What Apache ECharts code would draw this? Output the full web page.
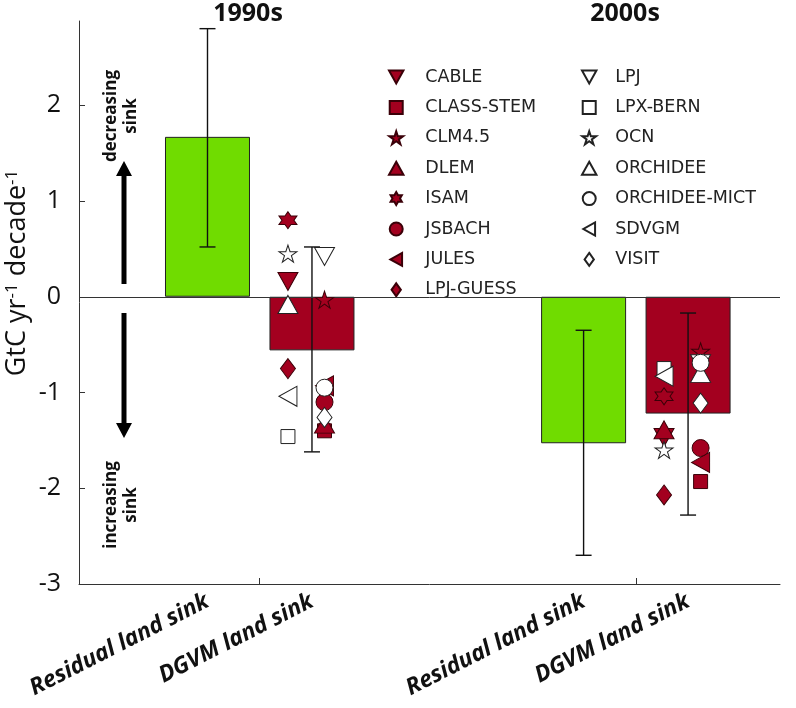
<!DOCTYPE html>
<html><head><meta charset="utf-8">
<script src="https://cdn.jsdelivr.net/npm/echarts@6/dist/echarts.min.js"></script>
<style>html,body{margin:0;padding:0;background:#fff}#c{width:796px;height:708px}</style>
</head><body><div id="c"></div>
<script>
// ---------------- data ----------------
const groupLabels = ['1990s', '2000s'];
const barCategories = ['Residual land sink', 'DGVM land sink', 'Residual land sink', 'DGVM land sink'];
const barPositions = [1, 2, 4.6, 5.6];
const barValues = [1.67, -0.56, -1.53, -1.22];
const errLow = [0.52, -1.62, -2.70, -2.28];
const errHigh = [2.80, 0.52, -0.35, -0.17];
const yTicks = [-3, -2, -1, 0, 1, 2];

const models = ['CABLE', 'CLASS-STEM', 'CLM4.5', 'DLEM', 'ISAM', 'JSBACH', 'JULES', 'LPJ-GUESS',
                'LPJ', 'LPX-BERN', 'OCN', 'ORCHIDEE', 'ORCHIDEE-MICT', 'SDVGM', 'VISIT'];
const model1990 = [0.16, -1.40, -0.03, -1.33, 0.80, -1.10, -0.93, -0.75,
                   0.42, -1.46, 0.45, -0.08, -0.95, -1.04, -1.26];
const model2000 = [-1.47, -1.93, -0.57, -1.39, -1.04, -1.58, -1.73, -2.07,
                   -0.70, -0.75, -1.60, -0.80, -0.69, -0.83, -1.11];
// which side of the DGVM error bar each marker sits on (layout only)
const column1990 = ['L', 'R', 'R', 'R', 'L', 'R', 'R', 'L', 'R', 'L', 'L', 'L', 'R', 'L', 'R'];
const column2000 = ['L', 'R', 'R', 'L', 'L', 'R', 'R', 'L', 'R', 'L', 'L', 'R', 'R', 'L', 'R'];

// ---------------- styles ----------------
const RED = '#A3001F', GREEN = '#70DC00';
const STAR5 = 'path://M0,-10L2.25,-3.09L9.51,-3.09L3.63,1.18L5.88,8.09L0,3.82L-5.88,8.09L-3.63,1.18L-9.51,-3.09L-2.25,-3.09Z';
const HEX = 'path://M0,-10L2.89,-5L8.66,-5L5.77,0L8.66,5L2.89,5L0,10L-2.89,5L-8.66,5L-5.77,0L-8.66,-5L-2.89,-5Z';
const DOWN = 'path://M0,0L10,0L5,9Z';
const UP = 'path://M5,0L10,9L0,9Z';
const LEFT = 'path://M9,0L9,10L0,5Z';
const SQUARE = 'path://M0,0L10,0L10,10L0,10Z';
const DIAMOND = 'path://M5,0L10,7L5,14L0,7Z';
const symbolStyle = {
  'CABLE': [DOWN, [20, 18], true], 'CLASS-STEM': [SQUARE, [14, 14], true], 'CLM4.5': [STAR5, [18, 17], true],
  'DLEM': [UP, [20, 18], true], 'ISAM': [HEX, [18, 17], true], 'JSBACH': ['circle', [17, 17], true],
  'JULES': [LEFT, [18, 20], true], 'LPJ-GUESS': [DIAMOND, [15, 20], true],
  'LPJ': [DOWN, [20, 18], false], 'LPX-BERN': [SQUARE, [14, 14], false], 'OCN': [STAR5, [18, 17], false],
  'ORCHIDEE': [UP, [20, 18], false], 'ORCHIDEE-MICT': ['circle', [17, 17], false],
  'SDVGM': [LEFT, [18, 20], false], 'VISIT': [DIAMOND, [15, 20], false]
};
const colOffset = { L: -0.23, R: 0.12 };

const scatterSeries = models.map((m, i) => {
  const [sym, size, filled] = symbolStyle[m];
  return {
    name: m, type: 'scatter', z: 5, symbol: sym, symbolSize: size,
    itemStyle: { color: filled ? RED : '#ffffff', borderColor: filled ? '#3a0008' : '#222', borderWidth: 1, opacity: 1 },
    emphasis: { disabled: true },
    data: [
      [barPositions[1] + colOffset[column1990[i]], model1990[i]],
      [barPositions[3] + colOffset[column2000[i]], model2000[i]]
    ]
  };
});

const chart = echarts.init(document.getElementById('c'), null, { renderer: 'canvas' });
const legendText = { fontFamily: 'DejaVu Sans', fontSize: 17.5, lineHeight: 13, color: '#222' };

const option = {
  animation: false,
  grid: { left: 79, right: 16, top: 21, bottom: 124, containLabel: false, outerBoundsMode: 'none' },
  xAxis: {
    type: 'value', min: -0.23, max: 6.48,
    axisLine: { show: true, onZero: false, lineStyle: { color: '#333', width: 1 } },
    axisTick: { show: true, inside: true, length: 6, customValues: [1.5, 5.1], lineStyle: { color: '#333' } },
    axisLabel: {
      customValues: barPositions, rotate: 27, margin: 16,
      fontFamily: 'Noto Sans', fontSize: 23, fontWeight: 'bold', fontStyle: 'italic', color: '#111',
      formatter: v => barCategories[barPositions.indexOf(v)] || ''
    },
    splitLine: { show: false }
  },
  yAxis: {
    type: 'value', min: -3, max: 2.88,
    axisLine: { show: true, onZero: false, lineStyle: { color: '#333', width: 1 } },
    axisTick: { show: true, inside: true, length: 6, customValues: yTicks, lineStyle: { color: '#333' } },
    axisLabel: { customValues: yTicks, fontFamily: 'Open Sans', fontSize: 25, color: '#111', margin: 18 },
    splitLine: { show: false }
  },
  legend: [
    { data: models.slice(0, 8), orient: 'vertical', left: 388, top: 68, padding: 0,
      itemWidth: 48, itemHeight: 13, itemGap: 12.4, selectedMode: false, textStyle: legendText },
    { data: models.slice(8), orient: 'vertical', left: 581, top: 68, padding: 0,
      itemWidth: 42, itemHeight: 13, itemGap: 12.4, selectedMode: false, textStyle: legendText }
  ],
  series: [
    {
      type: 'bar', barWidth: 85, z: 2,
      itemStyle: { borderColor: '#222', borderWidth: 1 },
      data: barPositions.map((x, i) => ({ value: [x, barValues[i]], itemStyle: { color: i % 2 === 0 ? GREEN : RED } })),
      markLine: {
        silent: true, symbol: 'none', label: { show: false },
        lineStyle: { color: '#333', width: 1, type: 'solid' },
        data: [{ yAxis: 0 }]
      }
    },
    {
      type: 'custom', z: 3,
      data: barPositions.map((x, i) => [x, errLow[i], errHigh[i]]),
      renderItem: (params, api) => {
        const x = api.value(0);
        const lo = api.coord([x, api.value(1)]);
        const hi = api.coord([x, api.value(2)]);
        const c = 8;
        const st = { stroke: '#111', lineWidth: 1.4 };
        return {
          type: 'group', children: [
            { type: 'line', shape: { x1: lo[0], y1: lo[1], x2: hi[0], y2: hi[1] }, style: st },
            { type: 'line', shape: { x1: hi[0] - c, y1: hi[1], x2: hi[0] + c, y2: hi[1] }, style: st },
            { type: 'line', shape: { x1: lo[0] - c, y1: lo[1], x2: lo[0] + c, y2: lo[1] }, style: st }
          ]
        };
      }
    },
    ...scatterSeries
  ],
  graphic: [
    { type: 'text', x: 248, y: 14, style: { text: groupLabels[0], fontFamily: 'Open Sans', fontWeight: 'bold', fontSize: 25, fill: '#111', align: 'center', verticalAlign: 'middle' } },
    { type: 'text', x: 625, y: 14, style: { text: groupLabels[1], fontFamily: 'Open Sans', fontWeight: 'bold', fontSize: 25, fill: '#111', align: 'center', verticalAlign: 'middle' } },
    { type: 'text', x: 17, y: 273, rotation: Math.PI / 2,
      style: { text: 'GtC yr{s|-1} decade{s|-1}', fontFamily: 'Open Sans', fontSize: 27, fill: '#111', align: 'center', verticalAlign: 'middle',
        rich: { s: { fontFamily: 'Open Sans', fontSize: 17, verticalAlign: 'top', fill: '#111' } } } },
    { type: 'text', x: 121, y: 116, rotation: Math.PI / 2,
      style: { text: 'decreasing\nsink', fontFamily: 'Open Sans', fontWeight: 'bold', fontSize: 17, lineHeight: 20, fill: '#111', align: 'center', verticalAlign: 'middle' } },
    { type: 'text', x: 121, y: 505, rotation: Math.PI / 2,
      style: { text: 'increasing\nsink', fontFamily: 'Open Sans', fontWeight: 'bold', fontSize: 17, lineHeight: 20, fill: '#111', align: 'center', verticalAlign: 'middle' } },
    { type: 'line', shape: { x1: 124, y1: 284, x2: 124, y2: 172 }, style: { stroke: '#000', lineWidth: 5 } },
    { type: 'polygon', shape: { points: [[116, 176], [132, 176], [124, 161]] }, style: { fill: '#000' } },
    { type: 'line', shape: { x1: 124, y1: 313, x2: 124, y2: 426 }, style: { stroke: '#000', lineWidth: 5 } },
    { type: 'polygon', shape: { points: [[116, 423], [132, 423], [124, 438]] }, style: { fill: '#000' } }
  ]
};
chart.setOption(option);
</script>
</body></html>
